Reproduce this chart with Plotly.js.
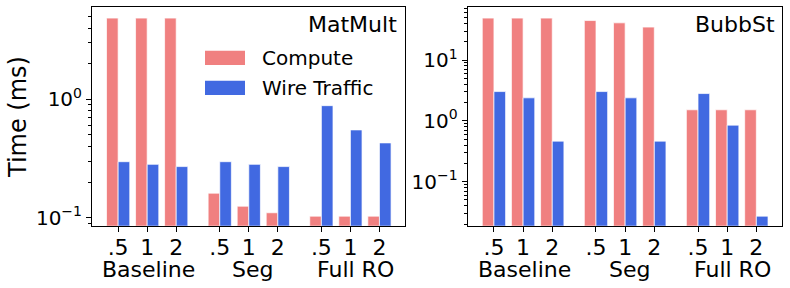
<!DOCTYPE html>
<html>
<head>
<meta charset="utf-8">
<script src="https://cdn.plot.ly/plotly-3.0.1.min.js"></script>
<style>html,body{margin:0;padding:0;background:#fff;}#chart{width:790px;height:288px;}</style>
</head>
<body>
<div id="chart"></div>
<script>
// ---- data ----
const groups = ['Baseline', 'Seg', 'Full RO'];
const ratios = ['.5', '1', '2'];
const seriesNames = ['Compute', 'Wire Traffic'];
const panelTitles = ['MatMult', 'BubbSt'];

const matmultCompute = [4.85, 4.85, 4.85, 0.161, 0.125, 0.110, 0.103, 0.103, 0.103];
const matmultWire    = [0.297, 0.282, 0.270, 0.297, 0.282, 0.270, 0.883, 0.551, 0.428];
const bubbCompute    = [48.9, 48.9, 48.9, 44.6, 40.9, 34.8, 1.52, 1.52, 1.52];
const bubbWire       = [3.03, 2.39, 0.464, 3.03, 2.39, 0.464, 2.81, 0.85, 0.0271];

const yTickVals1 = [0.1, 1];
const yTickText1 = ['10<sup>\u22121</sup>', '10<sup>0</sup>'];
const yTickVals2 = [0.1, 1, 10];
const yTickText2 = ['10<sup>\u22121</sup>', '10<sup>0</sup>', '10<sup>1</sup>'];

// ---- derived positions ----
const gap = 0.5;
const xPos = [];
const xText = [];
groups.forEach((g, gi) => ratios.forEach((r, ri) => { xPos.push(gi * (ratios.length + gap) + ri); xText.push(r); }));
const groupCenters = groups.map((g, gi) => gi * (ratios.length + gap) + (ratios.length - 1) / 2);
const groupLabelNudge = [1, 4, 5]; // pixel nudges of group labels

function minorTicks(lo, hi) {
  const out = [];
  for (let e = lo; e <= hi; e++) for (let d = 2; d <= 9; d++) out.push(d * Math.pow(10, e));
  return out;
}

const C_COMPUTE = '#F08080';
const C_WIRE = '#4169E1';
const FONT = 'DejaVu Sans, sans-serif';
const edge = {color: 'rgba(255,255,255,0.7)', width: 1};

const traces = [
  {type: 'bar', x: xPos, y: matmultCompute, name: seriesNames[0], width: 0.4, offset: -0.4, marker: {color: C_COMPUTE, line: edge}, xaxis: 'x', yaxis: 'y'},
  {type: 'bar', x: xPos, y: matmultWire, name: seriesNames[1], width: 0.4, offset: 0, marker: {color: C_WIRE, line: edge}, xaxis: 'x', yaxis: 'y'},
  {type: 'bar', x: xPos, y: bubbCompute, name: seriesNames[0], width: 0.4, offset: -0.4, marker: {color: C_COMPUTE, line: edge}, xaxis: 'x2', yaxis: 'y2'},
  {type: 'bar', x: xPos, y: bubbWire, name: seriesNames[1], width: 0.4, offset: 0, marker: {color: C_WIRE, line: edge}, xaxis: 'x2', yaxis: 'y2'}
];

const xCommon = {
  range: [-0.9, 9.88], tickmode: 'array', tickvals: xPos, ticktext: xText,
  ticks: 'outside', ticklen: 5, tickwidth: 1, tickcolor: '#000', ticklabelstandoff: -3,
  showline: true, mirror: true, linecolor: '#000', linewidth: 1,
  showgrid: false, zeroline: false, tickfont: {family: FONT, size: 22, color: '#000'}
};
const yCommon = {
  type: 'log', tickmode: 'array',
  ticks: 'outside', ticklen: 5, tickwidth: 1, tickcolor: '#000',
  showline: true, mirror: true, linecolor: '#000', linewidth: 1,
  showgrid: false, zeroline: false, tickfont: {family: FONT, size: 20, color: '#000'}
};

const yDom = [1 - 225.7 / 288, 1 - 7.3 / 288];
const layout = {
  width: 790, height: 288,
  margin: {l: 0, r: 0, t: 0, b: 0},
  paper_bgcolor: '#fff', plot_bgcolor: '#fff',
  showlegend: false, barmode: 'overlay',
  font: {family: FONT, color: '#000'},
  xaxis: Object.assign({}, xCommon, {domain: [92 / 790, 405 / 790], anchor: 'y'}),
  yaxis: Object.assign({}, yCommon, {domain: yDom, anchor: 'x', range: [-1.068, 0.777],
    tickvals: yTickVals1, ticktext: yTickText1,
    minor: {tickmode: 'array', tickvals: minorTicks(-2, 0), ticks: 'outside', ticklen: 3, tickwidth: 1, tickcolor: '#000', showgrid: false}}),
  xaxis2: Object.assign({}, xCommon, {domain: [467.7 / 790, 782 / 790], anchor: 'y2'}),
  yaxis2: Object.assign({}, yCommon, {domain: yDom, anchor: 'x2', range: [-1.724, 1.867],
    tickvals: yTickVals2, ticktext: yTickText2,
    minor: {tickmode: 'array', tickvals: minorTicks(-2, 1), ticks: 'outside', ticklen: 3, tickwidth: 1, tickcolor: '#000', showgrid: false}}),
  shapes: [
    {type: 'rect', xref: 'paper', yref: 'paper', x0: 205 / 790, x1: 245 / 790, y0: 1 - 65 / 288, y1: 1 - 50.7 / 288, fillcolor: C_COMPUTE, line: {width: 0}},
    {type: 'rect', xref: 'paper', yref: 'paper', x0: 205 / 790, x1: 245 / 790, y0: 1 - 95 / 288, y1: 1 - 80.7 / 288, fillcolor: C_WIRE, line: {width: 0}}
  ],
  annotations: [
    {xref: 'paper', yref: 'paper', x: 18 / 790, y: 1 - 117 / 288, text: 'Time (ms)', textangle: -90, showarrow: false, xanchor: 'center', yanchor: 'middle', font: {family: FONT, size: 24, color: '#000'}},
    {xref: 'paper', yref: 'paper', x: 399 / 790, y: 1 - 24 / 288, text: panelTitles[0], showarrow: false, xanchor: 'right', yanchor: 'middle', font: {family: FONT, size: 22, color: '#000'}},
    {xref: 'paper', yref: 'paper', x: 777 / 790, y: 1 - 24 / 288, text: panelTitles[1], showarrow: false, xanchor: 'right', yanchor: 'middle', font: {family: FONT, size: 22, color: '#000'}},
    {xref: 'paper', yref: 'paper', x: 260 / 790, y: 1 - 58 / 288, text: seriesNames[0], showarrow: false, xanchor: 'left', yanchor: 'middle', font: {family: FONT, size: 20, color: '#000'}},
    {xref: 'paper', yref: 'paper', x: 260 / 790, y: 1 - 88 / 288, text: seriesNames[1], showarrow: false, xanchor: 'left', yanchor: 'middle', font: {family: FONT, size: 20, color: '#000'}}
  ]
};

['x', 'x2'].forEach(xr => groups.forEach((g, gi) => {
  layout.annotations.push({xref: xr, yref: 'paper', x: groupCenters[gi], xshift: groupLabelNudge[gi], y: 1 - 269 / 288, text: g, showarrow: false, xanchor: 'center', yanchor: 'middle', font: {family: FONT, size: 22, color: '#000'}});
}));

Plotly.newPlot('chart', traces, layout, {staticPlot: true, displayModeBar: false});
</script>
</body>
</html>
